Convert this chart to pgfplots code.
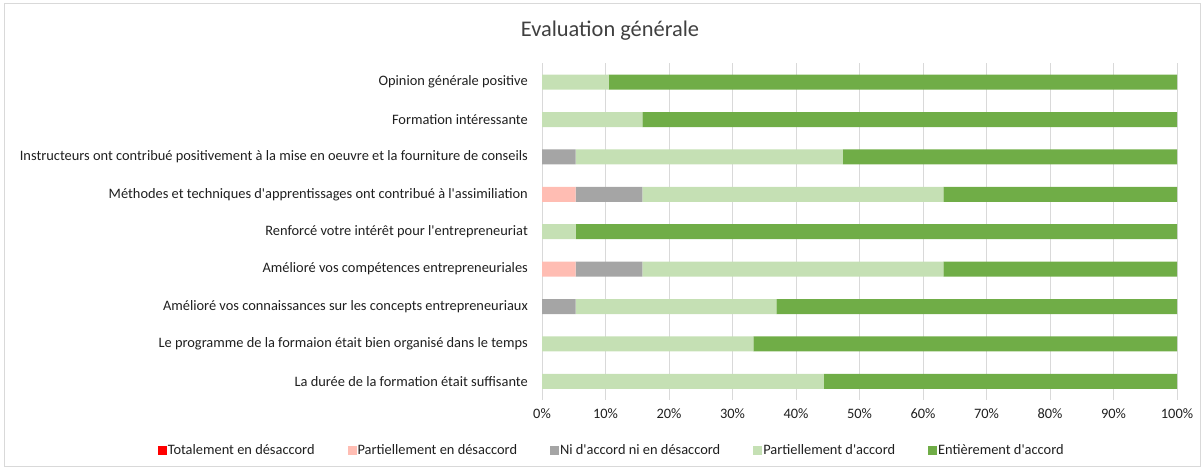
\documentclass[border=0pt]{standalone}
\usepackage{pgfplots}
\pgfplotsset{compat=1.18}
\usepackage{fontspec}
\setmainfont{Carlito}
\definecolor{cRed}{HTML}{FF0000}
\definecolor{cPink}{HTML}{FFBDB3}
\definecolor{cGrey}{HTML}{A5A5A5}
\definecolor{cLGreen}{HTML}{C5E0B4}
\definecolor{cGreen}{HTML}{70AD47}
\definecolor{cBorder}{HTML}{D9D9D9}
\definecolor{cText}{HTML}{1F1F1F}
\definecolor{cTitle}{HTML}{404040}
\begin{document}
\begin{tikzpicture}[x=1pt,y=1pt]
\useasboundingbox (0,0) rectangle (1204,470);
\draw[cBorder, line width=0.75pt] (4,4) rectangle (1200,467);
\node[font=\fontsize{22.4}{26}\selectfont, text=cTitle] at (610,439) {Evaluation générale};
\begin{axis}[
  at={(542pt,70pt)}, anchor=south west,
  width=635pt, height=336.6pt, scale only axis,
  xbar stacked, bar width=15pt,
  xmin=0, xmax=100, ymin=-0.5, ymax=8.5, y dir=reverse,
  xtick={0,10,...,100},
  xticklabel={\pgfmathprintnumber{\tick}\%},
  /pgf/number format/assume math mode=true,
  ytick={0,...,8},
  yticklabels={
    Opinion générale positive,
    Formation intéressante,
    Instructeurs ont contribué positivement à la mise en oeuvre et la fourniture de conseils,
    Méthodes et techniques d\textquotesingle apprentissages ont contribué à l\textquotesingle assimiliation,
    Renforcé votre intérêt pour l\textquotesingle entrepreneuriat,
    Amélioré vos compétences entrepreneuriales,
    Amélioré vos connaissances sur les concepts entrepreneuriaux,
    Le programme de la formaion était bien organisé dans le temps,
    La durée de la formation était suffisante},
  axis line style={draw=none},
  tick style={draw=none},
  xmajorgrids, major grid style={cBorder, line width=0.75pt},
  yticklabel style={font=\fontsize{14.4}{16}\selectfont, text=cText, inner sep=0pt, xshift=-14pt},
  xticklabel style={font=\fontsize{14.4}{16}\selectfont, text=cText, inner sep=0pt, yshift=-8pt},
  legend columns=5,
  legend style={at={(0.109,-0.1486)}, anchor=center, draw=none, fill=none,
    font=\fontsize{14.4}{16}\selectfont, text=cText,
    nodes={inner sep=1pt},
    /tikz/every even column/.append style={column sep=32pt}},
  legend image code/.code={\fill[#1] (0pt,-4.5pt) rectangle (9pt,4.5pt);},
]
\addplot[fill=cRed, draw=none] coordinates {(0,0) (0,1) (0,2) (0,3) (0,4) (0,5) (0,6) (0,7) (0,8)};
\addplot[fill=cPink, draw=none] coordinates {(0,0) (0,1) (0,2) (5.3,3) (0,4) (5.3,5) (0,6) (0,7) (0,8)};
\addplot[fill=cGrey, draw=none] coordinates {(0,0) (0,1) (5.3,2) (10.5,3) (0,4) (10.5,5) (5.3,6) (0,7) (0,8)};
\addplot[fill=cLGreen, draw=none] coordinates {(10.5,0) (15.8,1) (42.1,2) (47.4,3) (5.3,4) (47.4,5) (31.6,6) (33.3,7) (44.4,8)};
\addplot[fill=cGreen, draw=none] coordinates {(89.5,0) (84.2,1) (52.6,2) (36.8,3) (94.7,4) (36.8,5) (63.2,6) (66.7,7) (55.6,8)};
\legend{Totalement en désaccord, Partiellement en désaccord, Ni d\textquotesingle accord ni en désaccord, Partiellement d\textquotesingle accord, Entièrement d\textquotesingle accord}
\end{axis}
\end{tikzpicture}
\end{document}
